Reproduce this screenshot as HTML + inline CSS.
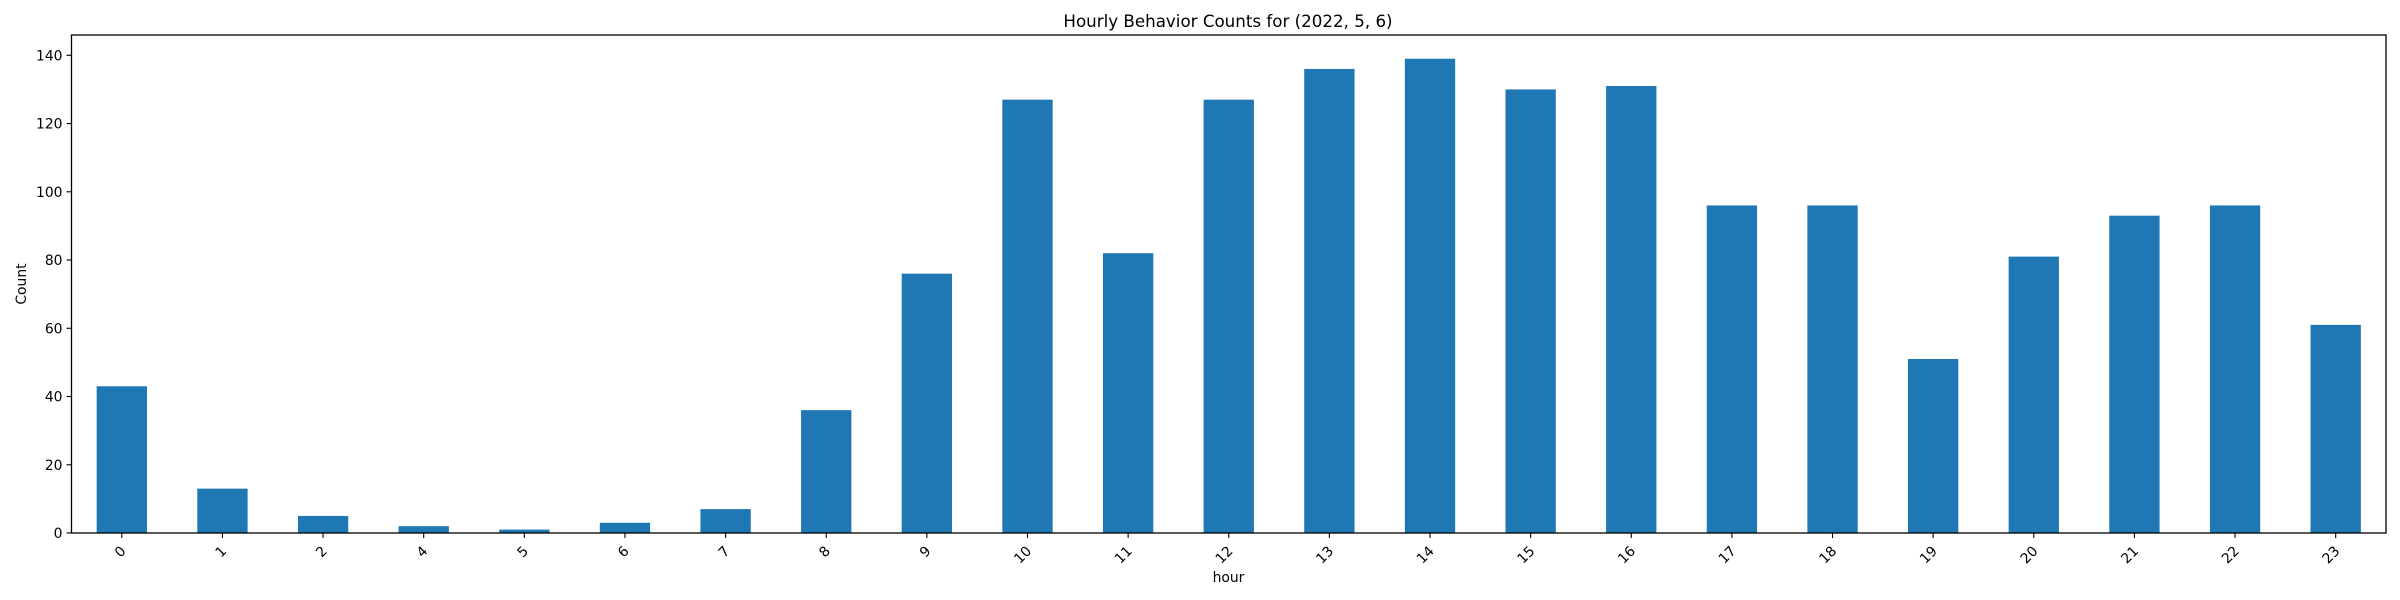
<!DOCTYPE html>
<html><head><meta charset="utf-8"><style>
html,body{margin:0;padding:0;background:#fff;}
svg{display:block;font-family:"DejaVu Sans","Liberation Sans",sans-serif;}
</style></head><body>
<svg id="chart" width="2400" height="600" viewBox="0 0 2400 600">
<rect width="2400" height="600" fill="#fff"/>
<text x="1228" y="27" font-size="16.7" text-anchor="middle" fill="#000">Hourly Behavior Counts for (2022, 5, 6)</text>
<g id="bars"></g>
<g id="yaxis"></g>
<g id="xaxis"></g>
<rect x="71.5" y="35" width="2314.5" height="498" fill="none" stroke="#000" stroke-width="1.3"/>
<text x="1228.5" y="582" font-size="13.9" text-anchor="middle">hour</text>
<text x="26" y="284" font-size="13.9" text-anchor="middle" transform="rotate(-90 26 284)">Count</text>
</svg>
<script>
const categories = ["0","1","2","4","5","6","7","8","9","10","11","12","13","14","15","16","17","18","19","20","21","22","23"];
const values = [43,13,5,2,1,3,7,36,76,127,82,127,136,139,130,131,96,96,51,81,93,96,61];
const yTicks = [0,20,40,60,80,100,120,140];

const NS = "http://www.w3.org/2000/svg";
const L = 71.5, R = 2386, T = 35, B = 533;
const yMax = Math.max(...values) * 1.05;
const y = v => B - v / yMax * (B - T);
const step = (R - L) / categories.length;
const xc = i => L + (i + 0.5) * step;
function mk(tag, attrs, parent) {
  const e = document.createElementNS(NS, tag);
  for (const k in attrs) e.setAttribute(k, attrs[k]);
  parent.appendChild(e);
  return e;
}
const bars = document.getElementById('bars');
const xaxis = document.getElementById('xaxis');
const yaxis = document.getElementById('yaxis');
values.forEach((v, i) => {
  const r = mk('rect', {x: xc(i) - step / 4, y: y(v), width: step / 2, height: B - y(v), fill: '#1f77b4'}, bars);
  
  
  const t = mk('line', {x1: xc(i), x2: xc(i), y1: B, y2: B + 5, stroke: '#000', 'stroke-width': 1.1}, xaxis);
  
  
  const lx = xc(i) + 2, ly = B + 16;
  const lb = mk('text', {x: lx, y: ly, 'font-size': 13.9, 'text-anchor': 'end', 'dominant-baseline': 'central', transform: `rotate(-45 ${lx} ${ly})`}, xaxis);
  lb.textContent = categories[i];
  
  
});
yTicks.forEach(v => {
  const t = mk('line', {x1: L - 5, x2: L, y1: y(v), y2: y(v), stroke: '#000', 'stroke-width': 1.1}, yaxis);
  
  
  const lb = mk('text', {x: L - 9, y: y(v) + 5, 'font-size': 13.9, 'text-anchor': 'end'}, yaxis);
  lb.textContent = v;
  
  
});
</script>
</body></html>
